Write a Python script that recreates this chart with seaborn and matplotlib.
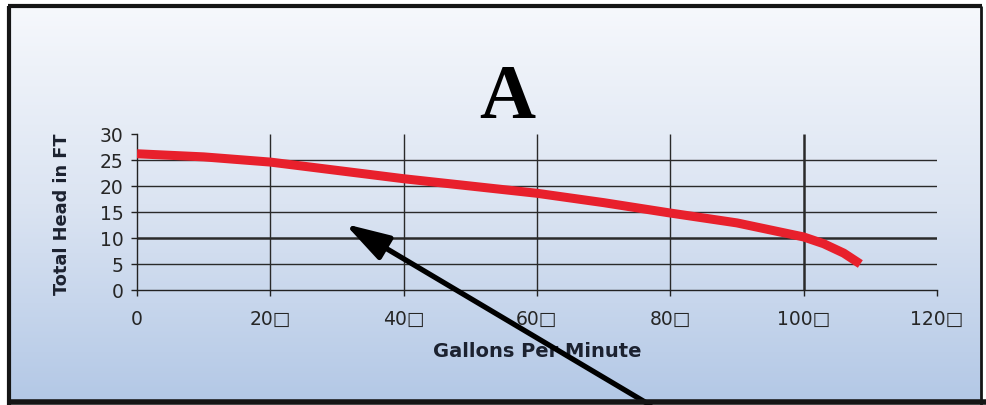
import numpy as np
import pandas as pd
import matplotlib.pyplot as plt
import seaborn as sns
from matplotlib.colors import LinearSegmentedColormap

# pump curve
gpm = [0, 10, 20, 30, 40, 50, 60, 70, 80, 90, 100, 103, 106, 108.5]
head = [26.2, 25.6, 24.6, 23.0, 21.4, 20.0, 18.6, 16.8, 14.8, 12.9, 10.2, 8.9, 7.1, 5.0]

xticks = [0, 20, 40, 60, 80, 100, 120]
xticklabels = ["0", "20\u25a1", "40\u25a1", "60\u25a1", "80\u25a1", "100\u25a1", "120\u25a1"]
yticks = [0, 5, 10, 15, 20, 25, 30]

df = pd.DataFrame({"gpm": gpm, "head": head})

sns.set_style("white")
plt.rcParams['font.family'] = ['DejaVu Sans']

W, H = 987, 406
fig = plt.figure(figsize=(W / 100, H / 100), dpi=100)
fig.patch.set_facecolor("white")

# background gradient inside the frame
bg = fig.add_axes([9 / W, 3 / H, (981 - 9) / W, (399 - 3) / H], zorder=-5)
grad = np.linspace(0, 1, 256).reshape(-1, 1)
cmap = LinearSegmentedColormap.from_list("bg", ["#f6f8fc", "#dbe4f2", "#b3c8e6"])
bg.imshow(grad, aspect="auto", cmap=cmap, extent=[0, 1, 0, 1], origin="upper")
bg.set_axis_off()

# frame lines
top_y = 1 - 7 / H
for (x0, y0, x1, y1, lw) in [(8 / W, top_y, 982 / W, top_y, 3.0),
                             (9 / W, 0, 9 / W, top_y, 3.0),
                             (8 / W, 3 / H, 1, 3 / H, 4.0),
                             (981 / W, 0, 981 / W, top_y, 2.0)]:
    fig.add_artist(plt.Line2D([x0, x1], [y0, y1], transform=fig.transFigure,
                              color="#151515", lw=lw, solid_capstyle="butt", zorder=10))

ax = fig.add_axes([137 / W, 1 - 291 / H, 800 / W, 156 / H])
ax.set_facecolor("none")

# grid
ax.hlines(yticks[1:-1], 0, 120, color="#2a2a2a", lw=[1, 1.8, 1, 1, 1], zorder=1)
ax.vlines(xticks[1:-1], 0, 30, color="#2a2a2a", lw=[1, 1, 1, 1, 1.8], zorder=1)

sns.lineplot(data=df, x="gpm", y="head", ax=ax, color="#e8202c", lw=6.5,
             solid_capstyle="butt", zorder=3)

ax.set_xlim(0, 120)
ax.set_ylim(0, 30)
ax.set_xticks(xticks)
ax.set_xticklabels(xticklabels, fontsize=13.5, color="#262626")
ax.set_yticks(yticks)
ax.set_yticklabels([str(v) for v in yticks], fontsize=13.5, color="#262626")
ax.tick_params(axis="both", direction="out", length=4.5, width=1, color="#222222", pad=5)
ax.tick_params(axis="x", bottom=True, pad=9)
ax.tick_params(axis="y", left=True)

for s in ["top", "right"]:
    ax.spines[s].set_visible(False)
for s in ["left", "bottom"]:
    ax.spines[s].set_color("#222222")
    ax.spines[s].set_linewidth(1)

ax.set_xlabel("Gallons Per Minute", fontsize=14, fontweight="bold", color="#1c2230")
ax.xaxis.set_label_coords(0.5, -0.33)
ax.set_ylabel("Total Head in FT", fontsize=12.8, fontweight="bold", color="#1c2230")
ax.yaxis.label.set_verticalalignment("center")
ax.yaxis.set_label_coords(-0.094, 0.49)

fig.text(507 / W, 1 - 118 / H, "A", family="Liberation Serif", fontweight="bold",
         fontsize=56, ha="center", va="baseline", color="black")

# pointer arrow
ax.annotate("", xy=(31.2, 12.7), xycoords="data",
            xytext=(650, 0), textcoords="figure pixels",
            arrowprops=dict(arrowstyle="-|>,head_length=1.5,head_width=0.45",
                            lw=3.8, color="black", mutation_scale=18,
                            shrinkA=0, shrinkB=0),
            annotation_clip=False, zorder=6)

fig.savefig("out.png", dpi=100)
